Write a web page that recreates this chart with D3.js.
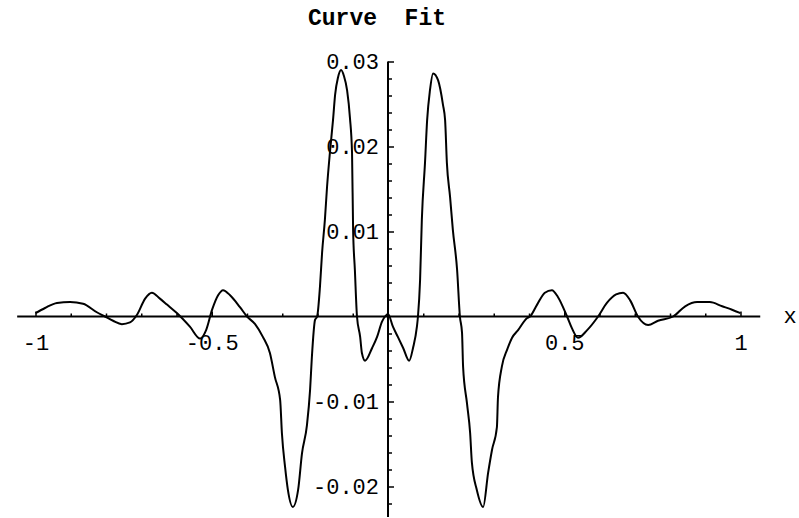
<!DOCTYPE html>
<html>
<head>
<meta charset="utf-8">
<script src="https://cdn.jsdelivr.net/npm/d3@7/dist/d3.min.js"></script>
<style>
  html, body { margin: 0; padding: 0; background: #fff; }
  svg { display: block; }
  text { font-family: "Liberation Mono", "DejaVu Sans Mono", monospace; fill: #000; }
</style>
</head>
<body>
<svg id="chart" width="799" height="518"></svg>
<script>
// Sampled fit curve: x positions and fitted values
const xs = [
  -1.0, -0.973, -0.939, -0.902, -0.865, -0.826, -0.803, -0.780, -0.755, -0.732,
  -0.712, -0.689, -0.670, -0.647, -0.627, -0.599, -0.562, -0.533, -0.516, -0.499,
  -0.482, -0.468, -0.448, -0.420, -0.400, -0.377, -0.355, -0.335, -0.321, -0.306,
  -0.301, -0.292, -0.284, -0.270, -0.255, -0.244, -0.230, -0.221, -0.216, -0.207,
  -0.201, -0.193, -0.187, -0.179, -0.173, -0.165, -0.156, -0.150, -0.142, -0.133,
  -0.125, -0.116, -0.108, -0.102, -0.099, -0.094, -0.088, -0.079, -0.074, -0.065,
  -0.045, -0.031, -0.017, -0.0085, 0.0, 0.014, 0.028, 0.043, 0.060, 0.071,
  0.082, 0.085, 0.091, 0.096, 0.105, 0.111, 0.119, 0.128, 0.142, 0.156,
  0.162, 0.167, 0.176, 0.184, 0.196, 0.204, 0.210, 0.213, 0.224, 0.233,
  0.238, 0.252, 0.270, 0.284, 0.295, 0.309, 0.312, 0.323, 0.338, 0.352,
  0.369, 0.394, 0.403, 0.423, 0.445, 0.465, 0.482, 0.508, 0.522, 0.539,
  0.565, 0.596, 0.621, 0.647, 0.667, 0.687, 0.709, 0.738, 0.766, 0.809,
  0.843, 0.877, 0.913, 0.948, 0.976, 1.0
];
const ys = [
  0.0004, 0.0010, 0.0016, 0.0017, 0.0015, 0.0005, 0.0000, -0.0005, -0.0009, -0.0007,
  0.0002, 0.0021, 0.0028, 0.0021, 0.0014, 0.0004, -0.0012, -0.0026, -0.0016, 0.0008,
  0.0025, 0.0031, 0.0025, 0.0011, 0.0000, -0.0009, -0.0024, -0.0043, -0.0071, -0.0098,
  -0.0137, -0.0177, -0.0204, -0.0224, -0.0204, -0.0161, -0.0128, -0.0086, -0.0048, -0.0004,
  0.0000, 0.0035, 0.0075, 0.0114, 0.0152, 0.0192, 0.0231, 0.0261, 0.0281, 0.0290,
  0.0283, 0.0266, 0.0234, 0.0192, 0.0102, 0.0055, 0.0000, -0.0024, -0.0043, -0.0052,
  -0.0037, -0.0024, -0.0006, 0.0000, 0.0003, -0.0012, -0.0024, -0.0037, -0.0052, -0.0037,
  -0.0012, 0.0000, 0.0043, 0.0114, 0.0181, 0.0231, 0.0266, 0.0286, 0.0278, 0.0249,
  0.0231, 0.0181, 0.0141, 0.0102, 0.0055, 0.0000, -0.0019, -0.0059, -0.0102, -0.0137,
  -0.0172, -0.0204, -0.0224, -0.0184, -0.0157, -0.0130, -0.0095, -0.0059, -0.0039, -0.0025,
  -0.0016, -0.0002, 0.0000, 0.0014, 0.0028, 0.0031, 0.0023, 0.0000, -0.0014, -0.0025,
  -0.0016, 0.0000, 0.0016, 0.0026, 0.0028, 0.0019, 0.0000, -0.0010, -0.0005, 0.0000,
  0.0012, 0.0017, 0.0017, 0.0012, 0.0008, 0.0004
];

// Axis ticks and labels
const xMajorTicks = [-1, -0.5, 0.5, 1];
const xTickLabels = ["-1", "-0.5", "0.5", "1"];
const xMinorTicks = [-0.9, -0.8, -0.7, -0.6, -0.4, -0.3, -0.2, -0.1, 0.1, 0.2, 0.3, 0.4, 0.6, 0.7, 0.8, 0.9];
const yMajorTicks = [-0.02, -0.01, 0.01, 0.02, 0.03];
const yTickLabels = ["-0.02", "-0.01", "0.01", "0.02", "0.03"];
const yMinorTicks = [-0.022, -0.018, -0.016, -0.014, -0.012, -0.008, -0.006, -0.004, -0.002,
  0.002, 0.004, 0.006, 0.008, 0.012, 0.014, 0.016, 0.018, 0.022, 0.024, 0.026, 0.028];
const xAxisExtent = [-1.052, 1.056];
const yAxisExtent = [-0.0236, 0.0300];
const title = "Curve  Fit";
const xAxisName = "x";

const svg = d3.select("#chart");

const x = d3.scaleLinear().domain([-1, 1]).range([35.5, 740.5]);
const y = d3.scaleLinear().domain([0, 0.03]).range([316.5, 61.5]);

// Title
svg.append("text")
  .attr("x", 308).attr("y", 25)
  .attr("font-size", 23).attr("font-weight", "bold")
  .attr("xml:space", "preserve")
  .style("white-space", "pre")
  .text(title);

// Horizontal axis (ticks point upward, labels below)
const xAxisG = svg.append("g").attr("transform", `translate(0,${y(0)})`);
xAxisG.append("line")
  .attr("x1", x(xAxisExtent[0])).attr("x2", x(xAxisExtent[1]))
  .attr("stroke", "#000").attr("stroke-width", 2);
xAxisG.append("g")
  .call(d3.axisBottom(x).tickValues(xMinorTicks).tickSize(-3).tickSizeOuter(0).tickFormat(""))
  .call(g => g.select(".domain").remove())
  .call(g => g.selectAll("line").attr("stroke-width", 1.5));
xAxisG.append("g")
  .call(d3.axisBottom(x).tickValues(xMajorTicks).tickSize(-5).tickSizeOuter(0)
    .tickFormat((d, i) => xTickLabels[i]))
  .call(g => g.select(".domain").remove())
  .call(g => g.selectAll("line").attr("stroke-width", 1.5))
  .call(g => g.selectAll("text")
    .attr("y", 33.5).attr("dy", null)
    .attr("font-size", 22).attr("font-family", "Liberation Mono, DejaVu Sans Mono, monospace"));

svg.append("text")
  .attr("x", 790).attr("y", 323)
  .attr("text-anchor", "middle")
  .attr("font-size", 22)
  .text(xAxisName);

// Vertical axis (ticks point right, labels left)
const yAxisG = svg.append("g").attr("transform", `translate(${x(0)},0)`);
yAxisG.append("line")
  .attr("y1", y(yAxisExtent[0])).attr("y2", y(yAxisExtent[1]))
  .attr("stroke", "#000").attr("stroke-width", 2);
yAxisG.append("g")
  .call(d3.axisLeft(y).tickValues(yMinorTicks).tickSize(-4).tickSizeOuter(0).tickFormat(""))
  .call(g => g.select(".domain").remove())
  .call(g => g.selectAll("line").attr("stroke-width", 1.5));
yAxisG.append("g")
  .call(d3.axisLeft(y).tickValues(yMajorTicks).tickSize(-6).tickSizeOuter(0)
    .tickFormat((d, i) => yTickLabels[i]))
  .call(g => g.select(".domain").remove())
  .call(g => g.selectAll("line").attr("stroke-width", 1.5))
  .call(g => g.selectAll("text")
    .attr("x", -9).attr("dy", "0.3em")
    .attr("font-size", 22).attr("font-family", "Liberation Mono, DejaVu Sans Mono, monospace"));

// Fitted curve
const pts = xs.map((v, i) => [v, ys[i]]);
const line = d3.line()
  .x(d => x(d[0]))
  .y(d => y(d[1]))
  .curve(d3.curveMonotoneX);

svg.append("path")
  .datum(pts)
  .attr("fill", "none")
  .attr("stroke", "#000")
  .attr("stroke-width", 2)
  .attr("stroke-linejoin", "round")
  .attr("d", line);
</script>
</body>
</html>
